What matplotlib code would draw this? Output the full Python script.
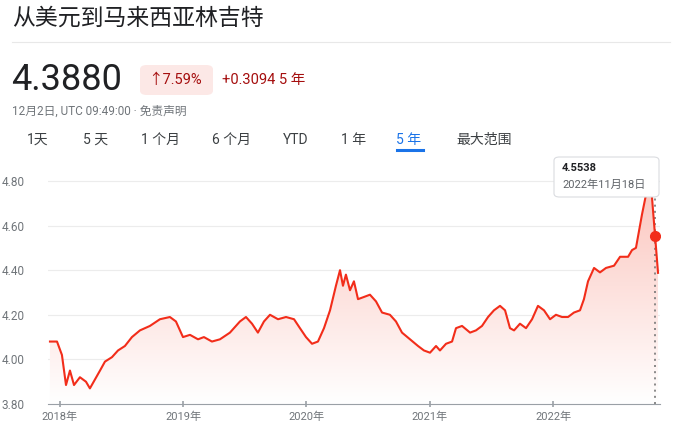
import numpy as np
import matplotlib
matplotlib.use("Agg")
import matplotlib.pyplot as plt
from matplotlib.patches import FancyBboxPatch
from matplotlib.colors import LinearSegmentedColormap

plt.rcParams['font.family'] = ['Roboto', 'Noto Sans CJK SC', 'DejaVu Sans']

# 数据 (年份小数, 汇率)
years = [2017.919, 2017.976, 2018.016, 2018.049, 2018.081, 2018.114, 2018.162, 2018.211,
         2018.243, 2018.284, 2018.325, 2018.365, 2018.422, 2018.471, 2018.527, 2018.584,
         2018.649, 2018.730, 2018.811, 2018.892, 2018.941, 2018.998, 2019.055, 2019.120,
         2019.168, 2019.233, 2019.298, 2019.379, 2019.460, 2019.509, 2019.558, 2019.606,
         2019.655, 2019.704, 2019.769, 2019.834, 2019.899, 2019.947, 2019.996, 2020.045,
         2020.093, 2020.142, 2020.191, 2020.239, 2020.272, 2020.296, 2020.320, 2020.353,
         2020.385, 2020.418, 2020.467, 2020.515, 2020.564, 2020.613, 2020.677, 2020.726,
         2020.775, 2020.840, 2020.905, 2020.953, 2021.002, 2021.051, 2021.083, 2021.132,
         2021.181, 2021.213, 2021.262, 2021.327, 2021.375, 2021.424, 2021.473, 2021.521,
         2021.570, 2021.611, 2021.651, 2021.684, 2021.732, 2021.781, 2021.830, 2021.878,
         2021.927, 2021.976, 2022.024, 2022.073, 2022.122, 2022.170, 2022.219, 2022.251,
         2022.284, 2022.333, 2022.381, 2022.430, 2022.495, 2022.544, 2022.609, 2022.641,
         2022.673, 2022.722, 2022.755, 2022.787, 2022.811, 2022.828, 2022.852]
rates = [4.08, 4.08, 4.02, 3.885, 3.95, 3.885, 3.92, 3.90, 3.87, 3.91, 3.95, 3.99,
         4.01, 4.04, 4.06, 4.10, 4.13, 4.15, 4.18, 4.19, 4.17, 4.10, 4.11, 4.09,
         4.10, 4.08, 4.09, 4.12, 4.17, 4.19, 4.16, 4.12, 4.17, 4.20, 4.18, 4.19,
         4.18, 4.14, 4.10, 4.07, 4.08, 4.14, 4.22, 4.33, 4.40, 4.33, 4.38, 4.31,
         4.35, 4.27, 4.28, 4.29, 4.26, 4.21, 4.20, 4.17, 4.12, 4.09, 4.06, 4.04,
         4.03, 4.06, 4.04, 4.07, 4.08, 4.14, 4.15, 4.12, 4.13, 4.15, 4.19, 4.22,
         4.24, 4.22, 4.14, 4.13, 4.16, 4.14, 4.18, 4.24, 4.22, 4.18, 4.20, 4.19,
         4.19, 4.21, 4.22, 4.27, 4.35, 4.41, 4.39, 4.41, 4.42, 4.46, 4.46, 4.49,
         4.50, 4.65, 4.74, 4.84, 4.67, 4.5538, 4.388]
hover_year, hover_rate = 2022.828, 4.5538
year_ticks = [2018, 2019, 2020, 2021, 2022]
year_labels = ['2018年', '2019年', '2020年', '2021年', '2022年']
y_ticks = [3.80, 4.00, 4.20, 4.40, 4.60, 4.80]
tabs = ['1天', '5 天', '1 个月', '6 个月', 'YTD', '1 年', '5 年', '最大范围']
tab_x = [27, 83, 141, 212, 283, 341, 396, 456]

W, H = 682, 443
fig = plt.figure(figsize=(W / 100, H / 100), dpi=100)

def px(x, y):
    return x / W, 1 - y / H

red = '#f22d1a'
fig.text(*px(12, 18), '从美元到马来西亚林吉特', fontsize=16.5, color='#202124', va='center')
fig.add_artist(plt.Line2D([12 / W, 670 / W], [1 - 42 / H] * 2, color='#e8e8e8', lw=0.8))
fig.text(*px(11, 80), '4.3880', fontsize=26, color='#202124', va='center')
fig.add_artist(FancyBboxPatch(px(140, 95), 73 / W, 30 / H,
                              boxstyle='round,pad=0,rounding_size=0.01',
                              transform=fig.transFigure, fc='#fce8e6', ec='none'))
fig.text(*px(148, 80), '↑7.59%', fontsize=10.5, color='#a50e0e', va='center')
fig.text(*px(222, 80), '+0.3094 5 年', fontsize=10.5, color='#a50e0e', va='center')
fig.text(*px(12, 111), '12月2日, UTC 09:49:00 · 免责声明', fontsize=8.5, color='#70757a', va='center')
for t, x in zip(tabs, tab_x):
    c = '#1a73e8' if t == '5 年' else '#3c4043'
    fig.text(*px(x, 140), t, fontsize=10, color=c, va='center')
fig.add_artist(plt.Line2D([397 / W, 423 / W], [1 - 150 / H] * 2, color='#1a73e8', lw=2.2))

x0, x1 = 2017.903, 2022.868
ax = fig.add_axes([48 / W, 1 - 404 / H, 612 / W, (404 - 168) / H])
x = np.array(years)
y = np.array(rates)
ax.set_xlim(x0, x1)
ax.set_ylim(3.80, 4.858)

# 渐变填充
grad = np.linspace(0, 1, 256).reshape(-1, 1)
cmap = LinearSegmentedColormap.from_list('g', ['#ffffff', '#fbc1b9'])
poly = ax.fill_between(x, 3.80, y, color='none')
im = ax.imshow(grad, cmap=cmap, aspect='auto', origin='lower',
               extent=[x0, x1, 3.80, 4.86], zorder=1)
im.set_clip_path(poly.get_paths()[0], transform=ax.transData)
ax.plot(x, y, color=red, lw=1.5, zorder=3)

for v in y_ticks[1:]:
    ax.axhline(v, color='#ececec', lw=0.8, zorder=0)
ax.axvline(hover_year, color='#777777', lw=1.2, ls=(0, (1.2, 2.5)), zorder=2)
ax.plot([hover_year], [hover_rate], 'o', color=red, ms=7, zorder=4)

for s in ['top', 'right', 'left']:
    ax.spines[s].set_visible(False)
ax.spines['bottom'].set_color('#9aa0a6')
ax.set_yticks(y_ticks)
ax.set_yticklabels(['%.2f' % v for v in y_ticks], fontsize=8.5, color='#70757a')
ax.tick_params(axis='y', length=0, pad=4)
ax.set_xticks(year_ticks)
ax.set_xticklabels(year_labels, fontsize=8, color='#70757a')
ax.tick_params(axis='x', length=4, color='#9aa0a6', direction='inout', width=1.2)
for lab in ax.get_yticklabels():
    lab.set_horizontalalignment('left')
    lab.set_x(-41 / 612)

# 提示框
fig.add_artist(FancyBboxPatch(px(554, 197), 105 / W, 40 / H,
                              boxstyle='round,pad=0,rounding_size=0.008',
                              transform=fig.transFigure, fc='white', ec='#dadce0', lw=0.8, zorder=5))
fig.text(*px(562, 168), '4.5538', fontsize=8, fontweight='bold', color='#202124', va='center', zorder=6)
fig.text(*px(562, 185), '2022年11月18日', fontsize=8, color='#5f6368', va='center', zorder=6)

fig.savefig('out.png', dpi=100)
